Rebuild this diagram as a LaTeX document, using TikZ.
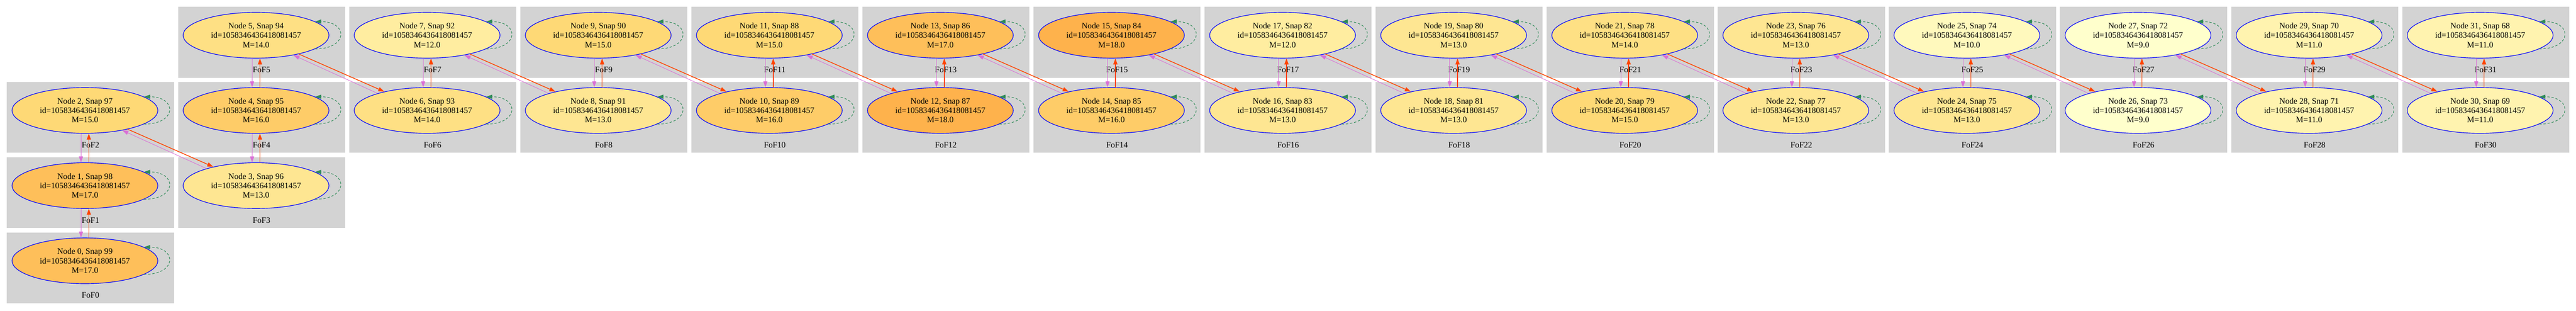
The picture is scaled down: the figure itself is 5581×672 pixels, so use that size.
\documentclass[tikz,border=0pt]{standalone}
\usepackage{fontspec}
\setmainfont{Liberation Serif}
\usepackage{tikz}
\usetikzlibrary{arrows.meta,shapes.geometric}
\usepackage{color}

\definecolor{fofgrey}{HTML}{D3D3D3}
\definecolor{orchid}{HTML}{DA70D6}
\definecolor{orangered}{HTML}{FF4500}
\definecolor{seagreen}{HTML}{2E8B57}
\definecolor{mass9}{HTML}{FFFFCC}
\definecolor{mass10}{HTML}{FFF9BD}
\definecolor{mass11}{HTML}{FFF3AF}
\definecolor{mass12}{HTML}{FFEDA0}
\definecolor{mass13}{HTML}{FEE692}
\definecolor{mass14}{HTML}{FEE084}
\definecolor{mass15}{HTML}{FED976}
\definecolor{mass16}{HTML}{FECC68}
\definecolor{mass17}{HTML}{FEBF5A}
\definecolor{mass18}{HTML}{FEB24C}

\tikzset{
  cluster/.style={fill=fofgrey},
  fofnode/.style={ellipse, draw=blue, line width=1.3pt, minimum width=316pt, minimum height=99pt,
    inner sep=0pt, align=center, font=\fontsize{18pt}{20.5pt}\selectfont},
  foflabel/.style={inner sep=0pt, font=\fontsize{18pt}{20.5pt}\selectfont},
  fwd/.style={draw=orangered, line width=1.6pt, -{Triangle[length=13pt,width=9pt]}},
  bwd/.style={draw=orchid, line width=1pt, -{Triangle[length=13pt,width=9pt]}},
  selfloop/.style={draw=seagreen, line width=1.2pt, dash pattern=on 5pt off 4pt, -{Triangle[length=13pt,width=9pt]}},
}

\begin{document}
\begin{tikzpicture}[x=1pt,y=1pt,yscale=-1,xscale=1]
\useasboundingbox (0,0) rectangle (5581,672);

% Cluster FoF0
\fill [cluster] (15,503.1) rectangle ++(362,153);
\node [foflabel] (l0) at (196,639.1) {FoF0};
\node [fofnode, fill=mass17] (n0) at (184,564.4) {Node 0, Snap 99\\id=1058346436418081457\\M=17.0};
% Cluster FoF1
\fill [cluster] (15,340.4) rectangle ++(362,153);
\node [foflabel] (l1) at (196,476.4) {FoF1};
\node [fofnode, fill=mass17] (n1) at (184,401.7) {Node 1, Snap 98\\id=1058346436418081457\\M=17.0};
% Cluster FoF2
\fill [cluster] (15,177.7) rectangle ++(362,153);
\node [foflabel] (l2) at (196,313.7) {FoF2};
\node [fofnode, fill=mass15] (n2) at (184,239) {Node 2, Snap 97\\id=1058346436418081457\\M=15.0};
% Cluster FoF3
\fill [cluster] (385.7,340.4) rectangle ++(362,153);
\node [foflabel] (l3) at (566.7,476.4) {FoF3};
\node [fofnode, fill=mass13] (n3) at (554.7,401.7) {Node 3, Snap 96\\id=1058346436418081457\\M=13.0};
% Cluster FoF4
\fill [cluster] (385.7,177.7) rectangle ++(362,153);
\node [foflabel] (l4) at (566.7,313.7) {FoF4};
\node [fofnode, fill=mass16] (n4) at (554.7,239) {Node 4, Snap 95\\id=1058346436418081457\\M=16.0};
% Cluster FoF5
\fill [cluster] (385.7,15) rectangle ++(362,153);
\node [foflabel] (l5) at (566.7,151) {FoF5};
\node [fofnode, fill=mass14] (n5) at (554.7,76.3) {Node 5, Snap 94\\id=1058346436418081457\\M=14.0};
% Cluster FoF6
\fill [cluster] (756.3,177.7) rectangle ++(362,153);
\node [foflabel] (l6) at (937.3,313.7) {FoF6};
\node [fofnode, fill=mass14] (n6) at (925.3,239) {Node 6, Snap 93\\id=1058346436418081457\\M=14.0};
% Cluster FoF7
\fill [cluster] (756.3,15) rectangle ++(362,153);
\node [foflabel] (l7) at (937.3,151) {FoF7};
\node [fofnode, fill=mass12] (n7) at (925.3,76.3) {Node 7, Snap 92\\id=1058346436418081457\\M=12.0};
% Cluster FoF8
\fill [cluster] (1127,177.7) rectangle ++(362,153);
\node [foflabel] (l8) at (1308,313.7) {FoF8};
\node [fofnode, fill=mass13] (n8) at (1296,239) {Node 8, Snap 91\\id=1058346436418081457\\M=13.0};
% Cluster FoF9
\fill [cluster] (1127,15) rectangle ++(362,153);
\node [foflabel] (l9) at (1308,151) {FoF9};
\node [fofnode, fill=mass15] (n9) at (1296,76.3) {Node 9, Snap 90\\id=1058346436418081457\\M=15.0};
% Cluster FoF10
\fill [cluster] (1497.7,177.7) rectangle ++(362,153);
\node [foflabel] (l10) at (1678.7,313.7) {FoF10};
\node [fofnode, fill=mass16] (n10) at (1666.7,239) {Node 10, Snap 89\\id=1058346436418081457\\M=16.0};
% Cluster FoF11
\fill [cluster] (1497.7,15) rectangle ++(362,153);
\node [foflabel] (l11) at (1678.7,151) {FoF11};
\node [fofnode, fill=mass15] (n11) at (1666.7,76.3) {Node 11, Snap 88\\id=1058346436418081457\\M=15.0};
% Cluster FoF12
\fill [cluster] (1868.3,177.7) rectangle ++(362,153);
\node [foflabel] (l12) at (2049.3,313.7) {FoF12};
\node [fofnode, fill=mass18] (n12) at (2037.3,239) {Node 12, Snap 87\\id=1058346436418081457\\M=18.0};
% Cluster FoF13
\fill [cluster] (1868.3,15) rectangle ++(362,153);
\node [foflabel] (l13) at (2049.3,151) {FoF13};
\node [fofnode, fill=mass17] (n13) at (2037.3,76.3) {Node 13, Snap 86\\id=1058346436418081457\\M=17.0};
% Cluster FoF14
\fill [cluster] (2239,177.7) rectangle ++(362,153);
\node [foflabel] (l14) at (2420,313.7) {FoF14};
\node [fofnode, fill=mass16] (n14) at (2408,239) {Node 14, Snap 85\\id=1058346436418081457\\M=16.0};
% Cluster FoF15
\fill [cluster] (2239,15) rectangle ++(362,153);
\node [foflabel] (l15) at (2420,151) {FoF15};
\node [fofnode, fill=mass18] (n15) at (2408,76.3) {Node 15, Snap 84\\id=1058346436418081457\\M=18.0};
% Cluster FoF16
\fill [cluster] (2609.7,177.7) rectangle ++(362,153);
\node [foflabel] (l16) at (2790.7,313.7) {FoF16};
\node [fofnode, fill=mass13] (n16) at (2778.7,239) {Node 16, Snap 83\\id=1058346436418081457\\M=13.0};
% Cluster FoF17
\fill [cluster] (2609.7,15) rectangle ++(362,153);
\node [foflabel] (l17) at (2790.7,151) {FoF17};
\node [fofnode, fill=mass12] (n17) at (2778.7,76.3) {Node 17, Snap 82\\id=1058346436418081457\\M=12.0};
% Cluster FoF18
\fill [cluster] (2980.3,177.7) rectangle ++(362,153);
\node [foflabel] (l18) at (3161.3,313.7) {FoF18};
\node [fofnode, fill=mass13] (n18) at (3149.3,239) {Node 18, Snap 81\\id=1058346436418081457\\M=13.0};
% Cluster FoF19
\fill [cluster] (2980.3,15) rectangle ++(362,153);
\node [foflabel] (l19) at (3161.3,151) {FoF19};
\node [fofnode, fill=mass13] (n19) at (3149.3,76.3) {Node 19, Snap 80\\id=1058346436418081457\\M=13.0};
% Cluster FoF20
\fill [cluster] (3351,177.7) rectangle ++(362,153);
\node [foflabel] (l20) at (3532,313.7) {FoF20};
\node [fofnode, fill=mass15] (n20) at (3520,239) {Node 20, Snap 79\\id=1058346436418081457\\M=15.0};
% Cluster FoF21
\fill [cluster] (3351,15) rectangle ++(362,153);
\node [foflabel] (l21) at (3532,151) {FoF21};
\node [fofnode, fill=mass14] (n21) at (3520,76.3) {Node 21, Snap 78\\id=1058346436418081457\\M=14.0};
% Cluster FoF22
\fill [cluster] (3721.7,177.7) rectangle ++(362,153);
\node [foflabel] (l22) at (3902.7,313.7) {FoF22};
\node [fofnode, fill=mass13] (n22) at (3890.7,239) {Node 22, Snap 77\\id=1058346436418081457\\M=13.0};
% Cluster FoF23
\fill [cluster] (3721.7,15) rectangle ++(362,153);
\node [foflabel] (l23) at (3902.7,151) {FoF23};
\node [fofnode, fill=mass13] (n23) at (3890.7,76.3) {Node 23, Snap 76\\id=1058346436418081457\\M=13.0};
% Cluster FoF24
\fill [cluster] (4092.3,177.7) rectangle ++(362,153);
\node [foflabel] (l24) at (4273.3,313.7) {FoF24};
\node [fofnode, fill=mass13] (n24) at (4261.3,239) {Node 24, Snap 75\\id=1058346436418081457\\M=13.0};
% Cluster FoF25
\fill [cluster] (4092.3,15) rectangle ++(362,153);
\node [foflabel] (l25) at (4273.3,151) {FoF25};
\node [fofnode, fill=mass10] (n25) at (4261.3,76.3) {Node 25, Snap 74\\id=1058346436418081457\\M=10.0};
% Cluster FoF26
\fill [cluster] (4463,177.7) rectangle ++(362,153);
\node [foflabel] (l26) at (4644,313.7) {FoF26};
\node [fofnode, fill=mass9] (n26) at (4632,239) {Node 26, Snap 73\\id=1058346436418081457\\M=9.0};
% Cluster FoF27
\fill [cluster] (4463,15) rectangle ++(362,153);
\node [foflabel] (l27) at (4644,151) {FoF27};
\node [fofnode, fill=mass9] (n27) at (4632,76.3) {Node 27, Snap 72\\id=1058346436418081457\\M=9.0};
% Cluster FoF28
\fill [cluster] (4833.7,177.7) rectangle ++(362,153);
\node [foflabel] (l28) at (5014.7,313.7) {FoF28};
\node [fofnode, fill=mass11] (n28) at (5002.7,239) {Node 28, Snap 71\\id=1058346436418081457\\M=11.0};
% Cluster FoF29
\fill [cluster] (4833.7,15) rectangle ++(362,153);
\node [foflabel] (l29) at (5014.7,151) {FoF29};
\node [fofnode, fill=mass11] (n29) at (5002.7,76.3) {Node 29, Snap 70\\id=1058346436418081457\\M=11.0};
% Cluster FoF30
\fill [cluster] (5204.3,177.7) rectangle ++(362,153);
\node [foflabel] (l30) at (5385.3,313.7) {FoF30};
\node [fofnode, fill=mass11] (n30) at (5373.3,239) {Node 30, Snap 69\\id=1058346436418081457\\M=11.0};
% Cluster FoF31
\fill [cluster] (5204.3,15) rectangle ++(362,153);
\node [foflabel] (l31) at (5385.3,151) {FoF31};
\node [fofnode, fill=mass11] (n31) at (5373.3,76.3) {Node 31, Snap 68\\id=1058346436418081457\\M=11.0};

% Straight Lines: same column, down and up
\draw [bwd] ([xshift=-8.5pt]n1.south) -- ([xshift=-8.5pt]n0.north);
\draw [fwd] ([xshift=8.5pt]n0.north) -- ([xshift=8.5pt]n1.south);
\draw [bwd] ([xshift=-8.5pt]n2.south) -- ([xshift=-8.5pt]n1.north);
\draw [fwd] ([xshift=8.5pt]n1.north) -- ([xshift=8.5pt]n2.south);
\draw [bwd] ([xshift=-8.5pt]n4.south) -- ([xshift=-8.5pt]n3.north);
\draw [fwd] ([xshift=8.5pt]n3.north) -- ([xshift=8.5pt]n4.south);
\draw [bwd] ([xshift=-8.5pt]n5.south) -- ([xshift=-8.5pt]n4.north);
\draw [fwd] ([xshift=8.5pt]n4.north) -- ([xshift=8.5pt]n5.south);
\draw [bwd] ([xshift=-8.5pt]n7.south) -- ([xshift=-8.5pt]n6.north);
\draw [fwd] ([xshift=8.5pt]n6.north) -- ([xshift=8.5pt]n7.south);
\draw [bwd] ([xshift=-8.5pt]n9.south) -- ([xshift=-8.5pt]n8.north);
\draw [fwd] ([xshift=8.5pt]n8.north) -- ([xshift=8.5pt]n9.south);
\draw [bwd] ([xshift=-8.5pt]n11.south) -- ([xshift=-8.5pt]n10.north);
\draw [fwd] ([xshift=8.5pt]n10.north) -- ([xshift=8.5pt]n11.south);
\draw [bwd] ([xshift=-8.5pt]n13.south) -- ([xshift=-8.5pt]n12.north);
\draw [fwd] ([xshift=8.5pt]n12.north) -- ([xshift=8.5pt]n13.south);
\draw [bwd] ([xshift=-8.5pt]n15.south) -- ([xshift=-8.5pt]n14.north);
\draw [fwd] ([xshift=8.5pt]n14.north) -- ([xshift=8.5pt]n15.south);
\draw [bwd] ([xshift=-8.5pt]n17.south) -- ([xshift=-8.5pt]n16.north);
\draw [fwd] ([xshift=8.5pt]n16.north) -- ([xshift=8.5pt]n17.south);
\draw [bwd] ([xshift=-8.5pt]n19.south) -- ([xshift=-8.5pt]n18.north);
\draw [fwd] ([xshift=8.5pt]n18.north) -- ([xshift=8.5pt]n19.south);
\draw [bwd] ([xshift=-8.5pt]n21.south) -- ([xshift=-8.5pt]n20.north);
\draw [fwd] ([xshift=8.5pt]n20.north) -- ([xshift=8.5pt]n21.south);
\draw [bwd] ([xshift=-8.5pt]n23.south) -- ([xshift=-8.5pt]n22.north);
\draw [fwd] ([xshift=8.5pt]n22.north) -- ([xshift=8.5pt]n23.south);
\draw [bwd] ([xshift=-8.5pt]n25.south) -- ([xshift=-8.5pt]n24.north);
\draw [fwd] ([xshift=8.5pt]n24.north) -- ([xshift=8.5pt]n25.south);
\draw [bwd] ([xshift=-8.5pt]n27.south) -- ([xshift=-8.5pt]n26.north);
\draw [fwd] ([xshift=8.5pt]n26.north) -- ([xshift=8.5pt]n27.south);
\draw [bwd] ([xshift=-8.5pt]n29.south) -- ([xshift=-8.5pt]n28.north);
\draw [fwd] ([xshift=8.5pt]n28.north) -- ([xshift=8.5pt]n29.south);
\draw [bwd] ([xshift=-8.5pt]n31.south) -- ([xshift=-8.5pt]n30.north);
\draw [fwd] ([xshift=8.5pt]n30.north) -- ([xshift=8.5pt]n31.south);

% Straight Lines: next column, across
\draw [fwd] (n2) -- (n3);
\draw [bwd] (n3.161) -- (n2.-28);
\draw [fwd] (n5) -- (n6);
\draw [bwd] (n6.161) -- (n5.-28);
\draw [fwd] (n7) -- (n8);
\draw [bwd] (n8.161) -- (n7.-28);
\draw [fwd] (n9) -- (n10);
\draw [bwd] (n10.161) -- (n9.-28);
\draw [fwd] (n11) -- (n12);
\draw [bwd] (n12.161) -- (n11.-28);
\draw [fwd] (n13) -- (n14);
\draw [bwd] (n14.161) -- (n13.-28);
\draw [fwd] (n15) -- (n16);
\draw [bwd] (n16.161) -- (n15.-28);
\draw [fwd] (n17) -- (n18);
\draw [bwd] (n18.161) -- (n17.-28);
\draw [fwd] (n19) -- (n20);
\draw [bwd] (n20.161) -- (n19.-28);
\draw [fwd] (n21) -- (n22);
\draw [bwd] (n22.161) -- (n21.-28);
\draw [fwd] (n23) -- (n24);
\draw [bwd] (n24.161) -- (n23.-28);
\draw [fwd] (n25) -- (n26);
\draw [bwd] (n26.161) -- (n25.-28);
\draw [fwd] (n27) -- (n28);
\draw [bwd] (n28.161) -- (n27.-28);
\draw [fwd] (n29) -- (n30);
\draw [bwd] (n30.161) -- (n29.-28);

% Curve Lines: self loops
\draw [selfloop] (n0.-13) .. controls +(72,0) and +(72,0) .. (n0.13);
\draw [selfloop] (n1.-13) .. controls +(72,0) and +(72,0) .. (n1.13);
\draw [selfloop] (n2.-13) .. controls +(72,0) and +(72,0) .. (n2.13);
\draw [selfloop] (n3.-13) .. controls +(72,0) and +(72,0) .. (n3.13);
\draw [selfloop] (n4.-13) .. controls +(72,0) and +(72,0) .. (n4.13);
\draw [selfloop] (n5.-13) .. controls +(72,0) and +(72,0) .. (n5.13);
\draw [selfloop] (n6.-13) .. controls +(72,0) and +(72,0) .. (n6.13);
\draw [selfloop] (n7.-13) .. controls +(72,0) and +(72,0) .. (n7.13);
\draw [selfloop] (n8.-13) .. controls +(72,0) and +(72,0) .. (n8.13);
\draw [selfloop] (n9.-13) .. controls +(72,0) and +(72,0) .. (n9.13);
\draw [selfloop] (n10.-13) .. controls +(72,0) and +(72,0) .. (n10.13);
\draw [selfloop] (n11.-13) .. controls +(72,0) and +(72,0) .. (n11.13);
\draw [selfloop] (n12.-13) .. controls +(72,0) and +(72,0) .. (n12.13);
\draw [selfloop] (n13.-13) .. controls +(72,0) and +(72,0) .. (n13.13);
\draw [selfloop] (n14.-13) .. controls +(72,0) and +(72,0) .. (n14.13);
\draw [selfloop] (n15.-13) .. controls +(72,0) and +(72,0) .. (n15.13);
\draw [selfloop] (n16.-13) .. controls +(72,0) and +(72,0) .. (n16.13);
\draw [selfloop] (n17.-13) .. controls +(72,0) and +(72,0) .. (n17.13);
\draw [selfloop] (n18.-13) .. controls +(72,0) and +(72,0) .. (n18.13);
\draw [selfloop] (n19.-13) .. controls +(72,0) and +(72,0) .. (n19.13);
\draw [selfloop] (n20.-13) .. controls +(72,0) and +(72,0) .. (n20.13);
\draw [selfloop] (n21.-13) .. controls +(72,0) and +(72,0) .. (n21.13);
\draw [selfloop] (n22.-13) .. controls +(72,0) and +(72,0) .. (n22.13);
\draw [selfloop] (n23.-13) .. controls +(72,0) and +(72,0) .. (n23.13);
\draw [selfloop] (n24.-13) .. controls +(72,0) and +(72,0) .. (n24.13);
\draw [selfloop] (n25.-13) .. controls +(72,0) and +(72,0) .. (n25.13);
\draw [selfloop] (n26.-13) .. controls +(72,0) and +(72,0) .. (n26.13);
\draw [selfloop] (n27.-13) .. controls +(72,0) and +(72,0) .. (n27.13);
\draw [selfloop] (n28.-13) .. controls +(72,0) and +(72,0) .. (n28.13);
\draw [selfloop] (n29.-13) .. controls +(72,0) and +(72,0) .. (n29.13);
\draw [selfloop] (n30.-13) .. controls +(72,0) and +(72,0) .. (n30.13);
\draw [selfloop] (n31.-13) .. controls +(72,0) and +(72,0) .. (n31.13);
\end{tikzpicture}
\end{document}
